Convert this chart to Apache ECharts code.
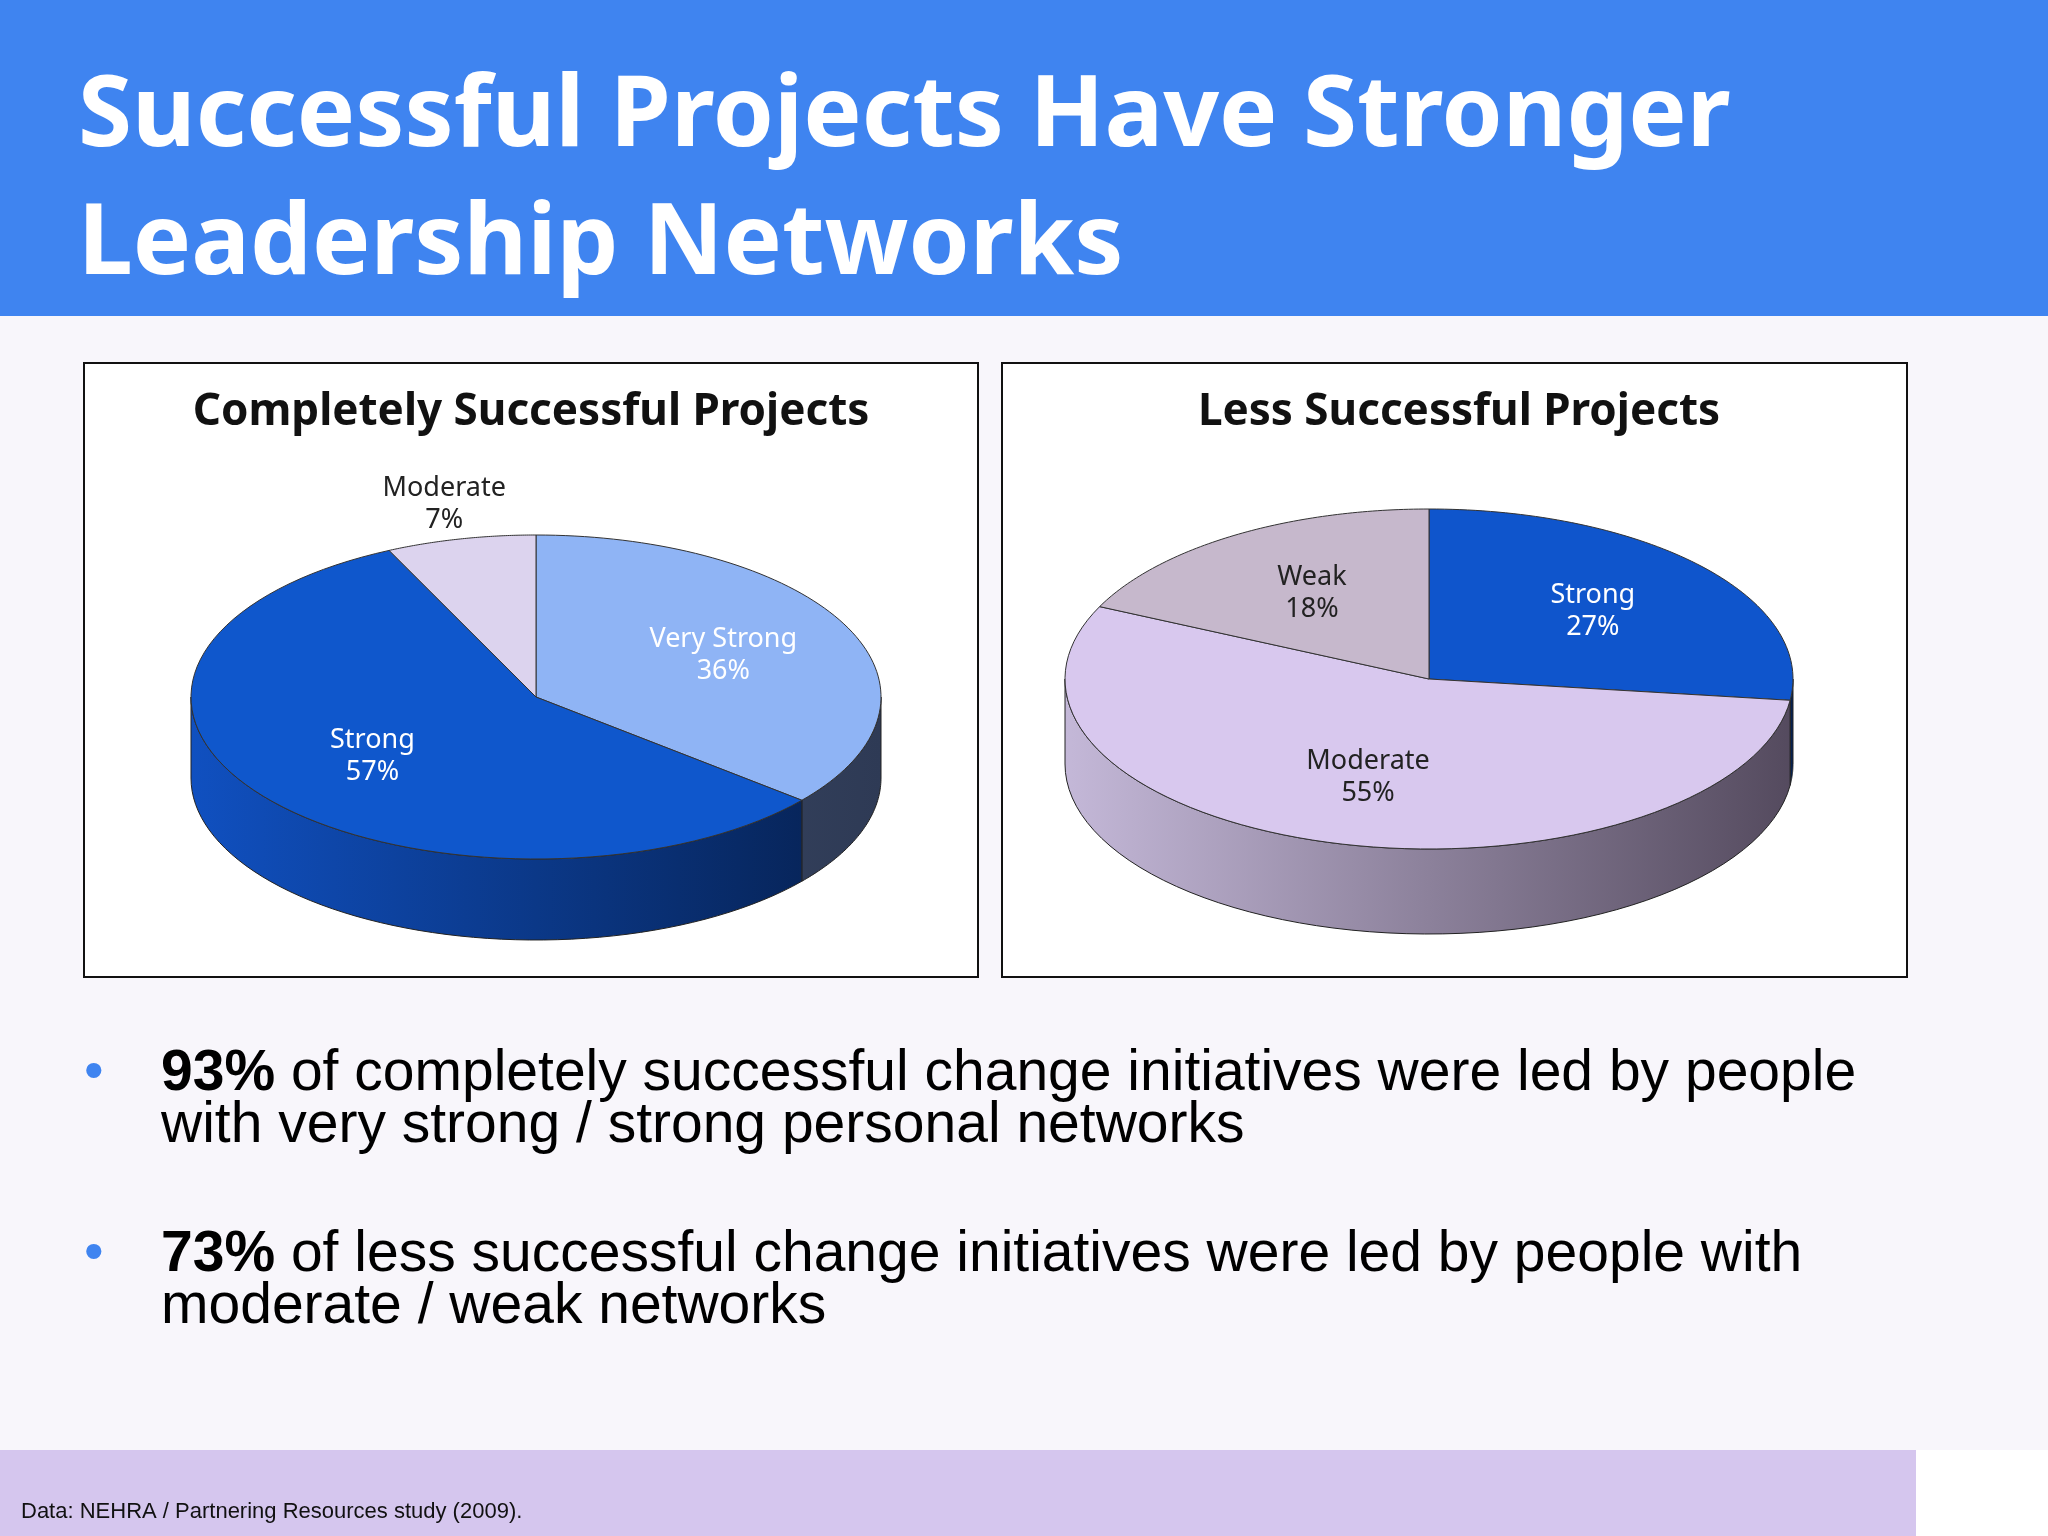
<!DOCTYPE html>
<html><head><meta charset="utf-8">
<script src="https://cdn.jsdelivr.net/npm/echarts@6/dist/echarts.min.js"></script>
<style>html,body{margin:0;padding:0;background:#f8f6fb}#c{width:2048px;height:1536px}</style>
</head><body><div id="c"></div>
<script>
const pie1Names = ['Very Strong','Strong','Moderate'];
const pie1Values = [36,57,7];
const pie1Colors = ['#8fb4f5','#0f57cc','#dcd3ee'];
const pie1Side = [['#4a5a78','#2e3a55'],['#1050c0','#06204f'],['#9a90b0','#6a6080']];
const pie2Names = ['Strong','Moderate','Weak'];
const pie2Values = [27,55,18];
const pie2Colors = ['#0f55cc','#d8c8ee','#c6b8cc'];
const pie2Side = [['#0a3a95','#06204f'],['#c4b8d8','#544a5e'],['#8c8296','#5a5060']];

const chart = echarts.init(document.getElementById('c'));
const F = 'Liberation Sans, Arial, sans-serif';
const F2 = 'Noto Sans, DejaVu Sans, sans-serif';

function pieSeries(names, values, colors, sides, cx, cy, rx, ry, depth, darkLabel) {
  const total = values.reduce((a,b)=>a+b,0);
  const starts = []; let acc = 0;
  values.forEach(v=>{starts.push(acc); acc+=v;});
  const pt = (th, dy) => [cx + rx*Math.sin(th), cy - ry*Math.cos(th) + (dy||0)];
  const data = values.map((v,i)=>({name:names[i], value:v}));
  const side = {
    type:'custom', coordinateSystem:'none', z:1, data:data,
    renderItem:function(p, api){
      const i = p.dataIndex;
      let a = starts[i]/total*2*Math.PI, b = (starts[i]+api.value(0))/total*2*Math.PI;
      const lo = Math.max(a, Math.PI/2), hi = Math.min(b, 1.5*Math.PI);
      if (hi <= lo) return {type:'group', children:[]};
      const top=[], bot=[];
      const n=60;
      for (let k=0;k<=n;k++){const t=lo+(hi-lo)*k/n; top.push(pt(t)); bot.push(pt(t,depth));}
      return {type:'polygon', shape:{points:top.concat(bot.reverse())},
        style:{fill:new echarts.graphic.LinearGradient(cx-rx,0,cx+rx,0,[{offset:0,color:sides[i][0]},{offset:1,color:sides[i][1]}],true),
        stroke:'#222', lineWidth:1}};
    }
  };
  const top = {
    type:'custom', coordinateSystem:'none', z:2, data:data,
    renderItem:function(p, api){
      const i = p.dataIndex; const v = api.value(0);
      const a = starts[i]/total*2*Math.PI, b = (starts[i]+v)/total*2*Math.PI;
      const pts=[[cx,cy]]; const n=80;
      for (let k=0;k<=n;k++) pts.push(pt(a+(b-a)*k/n));
      const m=(a+b)/2; const f = v<10 ? 1.22 : 0.6;
      const lx = cx + rx*f*Math.sin(m), ly = cy - ry*f*Math.cos(m);
      const light = darkLabel[i];
      return {type:'group', children:[
        {type:'polygon', shape:{points:pts}, style:{fill:colors[i], stroke:'#333', lineWidth:1}},
        {type:'text', x:lx, y:ly, style:{text:names[i]+'\n'+v+'%', font:'27px '+F2, fill:light?'#222':'#fff', align:'center', verticalAlign:'middle', lineHeight:32}}
      ]};
    }
  };
  return [side, top];
}

const s1 = pieSeries(pie1Names, pie1Values, pie1Colors, pie1Side, 536, 697, 345, 162, 81, [false,false,true]);
const s2 = pieSeries(pie2Names, pie2Values, pie2Colors, pie2Side, 1429, 679, 364, 170, 85, [false,true,true]);

chart.setOption({
  animation:false,
  backgroundColor:'#f8f6fb',
  graphic:[
    {type:'rect', shape:{x:0,y:0,width:2048,height:316}, style:{fill:'#3f84f0'}},
    {type:'text', x:78, y:118, style:{text:'Successful Projects Have Stronger', font:'bold 98px '+F2, fill:'#fff', verticalAlign:'middle'}},
    {type:'text', x:78, y:246, style:{text:'Leadership Networks', font:'bold 98px '+F2, fill:'#fff', verticalAlign:'middle'}},
    {type:'rect', shape:{x:84,y:363,width:894,height:614}, style:{fill:'#fff', stroke:'#111', lineWidth:2}, z:-1},
    {type:'rect', shape:{x:1002,y:363,width:905,height:614}, style:{fill:'#fff', stroke:'#111', lineWidth:2}, z:-1},
    {type:'text', x:531, y:412, style:{text:'Completely Successful Projects', font:'bold 44px '+F2, fill:'#111', align:'center', verticalAlign:'middle'}},
    {type:'text', x:1459, y:412, style:{text:'Less Successful Projects', font:'bold 44px '+F2, fill:'#111', align:'center', verticalAlign:'middle'}},
    {type:'text', x:84, y:1074, style:{text:'•', font:'56px '+F, fill:'#3f84f0', verticalAlign:'middle'}},
    {type:'text', x:161, y:1100, style:{text:'{b|93%} of completely successful change initiatives were led by people\nwith very strong / strong personal networks', font:'57px '+F, fill:'#000', verticalAlign:'middle', lineHeight:52, rich:{b:{font:'bold 57px '+F, fill:'#000'}}}},
    {type:'text', x:84, y:1255, style:{text:'•', font:'56px '+F, fill:'#3f84f0', verticalAlign:'middle'}},
    {type:'text', x:161, y:1281, style:{text:'{b|73%} of less successful change initiatives were led by people with\nmoderate / weak networks', font:'57px '+F, fill:'#000', verticalAlign:'middle', lineHeight:52, rich:{b:{font:'bold 57px '+F, fill:'#000'}}}},
    {type:'rect', shape:{x:0,y:1450,width:2048,height:86}, style:{fill:'#d5c6ee'}},
    {type:'rect', shape:{x:1916,y:1450,width:132,height:86}, style:{fill:'#fff'}},
    {type:'text', x:21, y:1512, style:{text:'Data: NEHRA / Partnering Resources study (2009).', font:'22px '+F, fill:'#111', verticalAlign:'middle'}}
  ],
  series: s1.concat(s2)
});
</script></body></html>
